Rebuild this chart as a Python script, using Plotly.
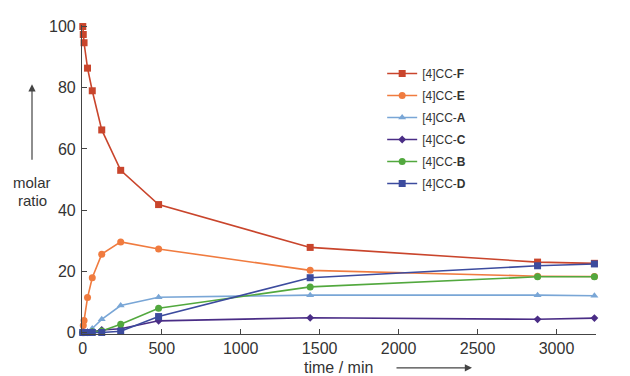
import plotly.graph_objects as go

time = [0, 3, 8, 30, 60, 120, 240, 480, 1440, 2880, 3240]
F = [100, 97.4, 94.7, 86.4, 79.0, 66.2, 53.0, 41.8, 27.8, 23.0, 22.6]
E = [0, 2.3, 3.9, 11.4, 17.9, 25.6, 29.6, 27.3, 20.3, 18.4, 18.3]
A = [0, 0, 0, 0.3, 1.3, 4.3, 8.8, 11.5, 12.2, 12.2, 12.0]
C = [0, 0, 0, 0, 0.2, 0.8, 1.2, 3.8, 4.8, 4.3, 4.7]
B = [0, 0, 0, 0, 0.2, 0.5, 2.7, 7.9, 14.9, 18.2, 18.2]
D = [0, 0, 0, 0, 0, 0, 0.4, 5.2, 17.9, 21.8, 22.4]

series = [
    ("[4]CC-<b>F</b>", F, "#c9452c", "square", 7),
    ("[4]CC-<b>E</b>", E, "#f07b3f", "circle", 7),
    ("[4]CC-<b>A</b>", A, "#79a6d6", "triangle-up", 7),
    ("[4]CC-<b>C</b>", C, "#4a2d86", "diamond", 6),
    ("[4]CC-<b>B</b>", B, "#52a83e", "circle", 7),
    ("[4]CC-<b>D</b>", D, "#3c4b9e", "square", 7),
]

fig = go.Figure()
for i, (name, ys, col, sym, sz) in enumerate(series):
    fig.add_trace(go.Scatter(
        x=time, y=ys, name=name, mode="lines+markers",
        line=dict(color=col, width=1.6),
        marker=dict(color=col, symbol=sym, size=sz),
        cliponaxis=False, legendgroup=str(i),
    ))

# page pixel -> paper helpers (figure sits 8px in from page corner)
PL, PW, PT, PH = 82, 514, 18.4, 316


def px(x):
    return (x - PL) / PW


def py(y):
    return (PT + PH - y) / PH


font = "Liberation Sans, Arial, sans-serif"
fig.update_layout(
    width=622, height=368,
    margin=dict(l=74, r=34, t=10.4, b=41.6),
    paper_bgcolor="white", plot_bgcolor="white",
    font=dict(family=font, color="#333333"),
    showlegend=True,
    legend=dict(x=0.584, y=0.89, xanchor="left", yanchor="top",
                font=dict(size=12, color="#333333"),
                tracegroupgap=3, bgcolor="rgba(0,0,0,0)"),
    xaxis=dict(range=[-5, 3250], tickvals=[0, 500, 1000, 1500, 2000, 2500, 3000],
               showgrid=False, zeroline=False, showline=True, linecolor="#444",
               linewidth=1.2, ticks="inside", ticklen=5, tickcolor="#444",
               ticklabelstandoff=0,
               tickfont=dict(size=16, color="#333333")),
    yaxis=dict(range=[-0.5, 100.5], tickvals=[0, 20, 40, 60, 80, 100],
               showgrid=False, zeroline=False, showline=True, linecolor="#444",
               linewidth=1.2, ticks="inside", ticklen=5, tickcolor="#444",
               ticklabelstandoff=2,
               tickfont=dict(size=16, color="#333333")),
    annotations=[
        dict(text="time / min", xref="paper", yref="paper",
             x=px(338), y=py(369), showarrow=False,
             font=dict(size=16, color="#333333"), xanchor="center", yanchor="middle"),
        dict(text="", xref="paper", yref="paper",
             x=px(472), y=py(369),
             ax=-77, ay=0, showarrow=True, arrowhead=2, arrowsize=1.2,
             arrowwidth=1.2, arrowcolor="#444"),
        dict(text="molar", xref="paper", yref="paper",
             x=px(32), y=py(179), showarrow=False,
             font=dict(size=15, color="#333333"), xanchor="center", yanchor="middle"),
        dict(text="ratio", xref="paper", yref="paper",
             x=px(32), y=py(198), showarrow=False,
             font=dict(size=15, color="#333333"), xanchor="center", yanchor="middle"),
        dict(text="", xref="paper", yref="paper",
             x=px(32), y=py(79),
             ax=0, ay=77, showarrow=True, arrowhead=2, arrowsize=1.2,
             arrowwidth=1.2, arrowcolor="#444"),
    ],
)

fig.write_html("out.html")
